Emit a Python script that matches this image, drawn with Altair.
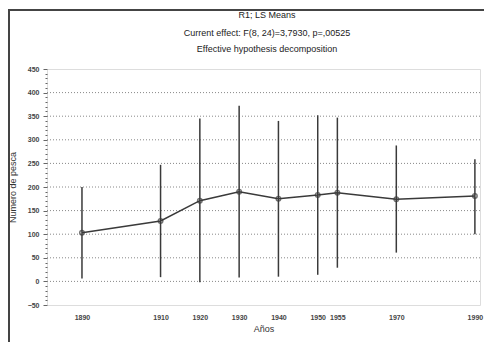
import altair as alt
import pandas as pd

years = [1890, 1910, 1920, 1930, 1940, 1950, 1955, 1970, 1990]
means = [103, 128, 171, 190, 175, 183, 188, 174, 181]
upper = [200, 247, 345, 372, 340, 352, 347, 288, 259]
lower = [6, 9, -2, 8, 10, 14, 29, 61, 100]
y_ticks = list(range(-50, 451, 10))
grid_values = list(range(0, 401, 50))

title_lines = ["R1; LS Means",
               "Current effect: F(8, 24)=3,7930, p=,00525",
               "Effective hypothesis decomposition"]

df = pd.DataFrame({"year": years, "mean": means, "lo": lower, "hi": upper})
gdf = pd.DataFrame({"g": grid_values})

FONT = "Liberation Sans"
DARK = "#3a3a3a"

xscale = alt.Scale(domain=[1881.1, 1991.3], nice=False, zero=False)
yscale = alt.Scale(domain=[-50, 450], nice=False, zero=False)

xaxis = alt.Axis(values=years, format="d", title="Años", grid=False,
                 tickSize=0, domain=False, labelPadding=8,
                 labelFont=FONT, labelFontSize=7, labelFontWeight="bold",
                 labelColor="#444", titleFont=FONT, titleFontSize=9,
                 titleFontWeight="normal", titleColor="#333", titlePadding=4,
                 labelOverlap=False)

yaxis = alt.Axis(values=y_ticks,
                 labelExpr="(datum.value % 50 == 0) ? format(datum.value, 'd') : ''",
                 labelOverlap=False,
                 tickSize={"condition": {"test": "datum.value % 50 == 0", "value": 4}, "value": 2},
                 grid=False, domain=False, tickColor="#666", labelPadding=4,
                 title="Numero de pesca",
                 labelFont=FONT, labelFontSize=7, labelFontWeight="bold",
                 labelColor="#444", titleFont=FONT, titleFontSize=9,
                 titleFontWeight="normal", titleColor="#333", titlePadding=10)

X = alt.X("year:Q", scale=xscale, axis=xaxis)

grid = alt.Chart(gdf).mark_rule(color="#888", strokeWidth=1, strokeDash=[1, 2]).encode(
    y=alt.Y("g:Q", scale=yscale, axis=yaxis),
)

base = alt.Chart(df)

bars = base.mark_rule(color=DARK, strokeWidth=1.5).encode(
    x=X,
    y=alt.Y("lo:Q", scale=yscale, axis=yaxis),
    y2="hi:Q",
)

line = base.mark_line(color=DARK, strokeWidth=1.5).encode(
    x=X,
    y=alt.Y("mean:Q", scale=yscale, axis=yaxis),
)

pts = base.mark_point(shape="circle", filled=False, size=20, color=DARK,
                      strokeWidth=1.5).encode(
    x=X,
    y=alt.Y("mean:Q", scale=yscale, axis=yaxis),
)

frame_left = alt.Chart(pd.DataFrame({"k": [0]})).mark_rect(color="#444").encode(
    x=alt.value(-39), x2=alt.value(-37), y=alt.value(-60), y2=alt.value(290))
frame_top = alt.Chart(pd.DataFrame({"k": [0]})).mark_rect(color="#444").encode(
    x=alt.value(-39), x2=alt.value(437), y=alt.value(-60), y2=alt.value(-58))

title_y = [-54, -36.5, -20]
title_layers = []
for t, ty in zip(title_lines, title_y):
    title_layers.append(
        alt.Chart(pd.DataFrame({"t": [t]})).mark_text(
            font=FONT, fontSize=9, color="#222", baseline="middle", align="center"
        ).encode(text="t:N", x=alt.value(220), y=alt.value(ty))
    )

chart = alt.layer(grid, bars, line, pts, frame_left, frame_top, *title_layers).properties(
    width=433, height=236,
    padding={"left": 39, "top": 61, "right": 4, "bottom": 37},
    autosize=alt.AutoSizeParams(type="none"),
).configure_view(stroke="#555", strokeWidth=1.5).configure(background="white")

chart.save("out.html", embed_options={"renderer": "svg", "actions": False})
